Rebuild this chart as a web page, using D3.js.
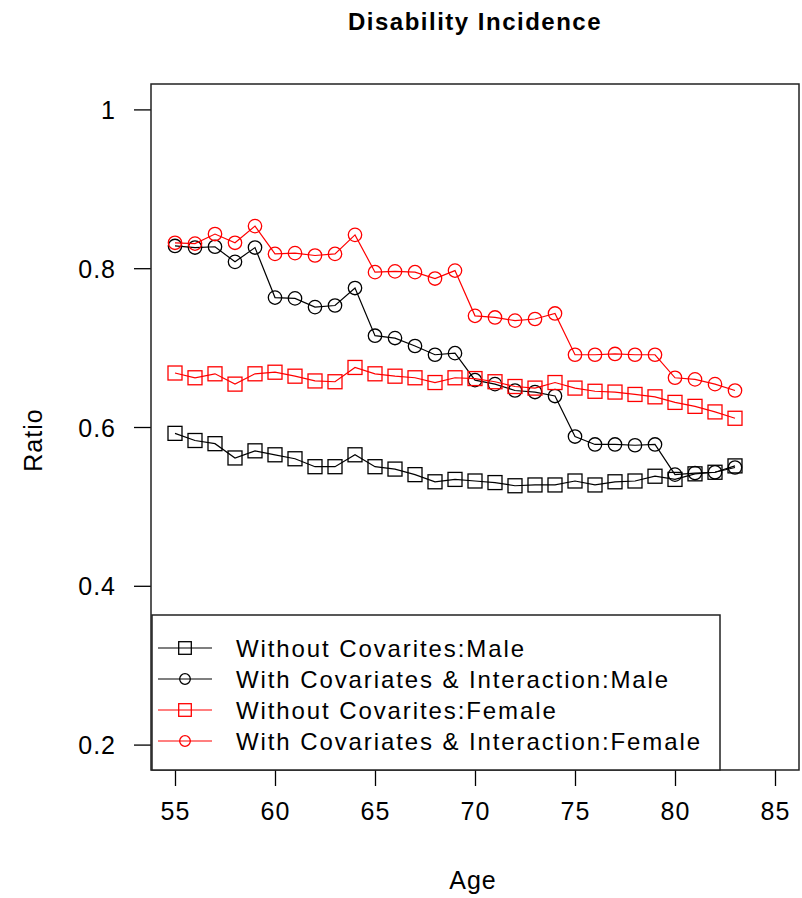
<!DOCTYPE html>
<html>
<head>
<meta charset="utf-8">
<script src="https://cdn.jsdelivr.net/npm/d3@7"></script>
<style>
  body { margin: 0; background: #fff; }
  text { font-family: "Liberation Sans", Arial, sans-serif; fill: #000; }
</style>
</head>
<body>
<script>
var width = 802,
    height = 898;

// ages 55..83
var ages = d3.range(55, 84);

var maleNoCov = [0.592, 0.583, 0.579, 0.561, 0.570, 0.565, 0.560, 0.550, 0.550, 0.565,
                 0.550, 0.547, 0.540, 0.531, 0.534, 0.532, 0.530, 0.526, 0.527, 0.527,
                 0.532, 0.527, 0.531, 0.532, 0.538, 0.534, 0.541, 0.543, 0.551];
var maleCov = [0.828, 0.826, 0.827, 0.808, 0.826, 0.763, 0.762, 0.751, 0.753, 0.775,
               0.715, 0.712, 0.702, 0.691, 0.693, 0.659, 0.654, 0.646, 0.644, 0.639,
               0.588, 0.578, 0.578, 0.577, 0.578, 0.540, 0.542, 0.543, 0.549];
var femaleNoCov = [0.668, 0.662, 0.667, 0.654, 0.667, 0.669, 0.664, 0.658, 0.657, 0.675,
                   0.667, 0.664, 0.662, 0.656, 0.662, 0.661, 0.657, 0.651, 0.649, 0.656,
                   0.649, 0.645, 0.644, 0.641, 0.638, 0.631, 0.626, 0.619, 0.611];
var femaleCov = [0.832, 0.831, 0.843, 0.832, 0.853, 0.818, 0.819, 0.816, 0.818, 0.842,
                 0.795, 0.796, 0.795, 0.787, 0.797, 0.740, 0.738, 0.734, 0.736, 0.743,
                 0.691, 0.691, 0.692, 0.691, 0.691, 0.662, 0.660, 0.654, 0.646];

var seriesNames = ["Without Covarites:Male", "With Covariates & Interaction:Male",
                   "Without Covarites:Female", "With Covariates & Interaction:Female"];
var seriesColors = ["#000000", "#000000", "#ff0000", "#ff0000"];
var seriesShapes = ["square", "circle", "square", "circle"];
var seriesValues = [maleNoCov, maleCov, femaleNoCov, femaleCov];

var xTicks = [55, 60, 65, 70, 75, 80, 85];
var yTicks = [0.2, 0.4, 0.6, 0.8, 1];

var plot = { left: 151, right: 799, top: 84, bottom: 770 };

var svg = d3.select("body").append("svg")
    .attr("width", width)
    .attr("height", height);

var x = d3.scaleLinear().domain([53.8, 86.2]).range([plot.left, plot.right]);
var y = d3.scaleLinear().domain([0.168, 1.032]).range([plot.bottom, plot.top]);

// title
svg.append("text")
    .attr("x", 475).attr("y", 30)
    .attr("text-anchor", "middle")
    .style("font-size", "24px").style("font-weight", "bold")
    .style("letter-spacing", "1.5px")
    .text("Disability Incidence");

// axes
var xAxis = svg.append("g")
    .attr("transform", "translate(0," + plot.bottom + ")")
    .call(d3.axisBottom(x).tickValues(xTicks).tickSize(16).tickPadding(16));
var yAxis = svg.append("g")
    .attr("transform", "translate(" + plot.left + ",0)")
    .call(d3.axisLeft(y).tickValues(yTicks).tickFormat(d3.format("~g")).tickSize(17).tickPadding(18));

[xAxis, yAxis].forEach(function(g) {
  g.select(".domain").remove();
  g.selectAll("line").attr("stroke", "#000").attr("stroke-width", 1.3);
  g.selectAll("text")
    .style("font-family", "'Liberation Sans', Arial, sans-serif")
    .style("font-size", "25px")
    .style("letter-spacing", "1px")
    .attr("fill", "#000");
});
yAxis.selectAll("text").attr("dy", "0.36em");

svg.append("text")
    .attr("x", 473).attr("y", 889)
    .attr("text-anchor", "middle")
    .style("font-size", "25px").style("letter-spacing", "1px")
    .text("Age");

svg.append("text")
    .attr("transform", "translate(42,440) rotate(-90)")
    .attr("text-anchor", "middle")
    .style("font-size", "25px").style("letter-spacing", "1px")
    .text("Ratio");

// plot box
svg.append("rect")
    .attr("x", plot.left).attr("y", plot.top)
    .attr("width", plot.right - plot.left).attr("height", plot.bottom - plot.top)
    .attr("fill", "none").attr("stroke", "#222").attr("stroke-width", 1.5);

var line = d3.line()
    .x(function(d, i) { return x(ages[i]); })
    .y(function(d) { return y(d); });

function drawMarker(g, shape, cx, cy, size, color) {
  if (shape == "square") {
    g.append("rect")
      .attr("x", cx - size).attr("y", cy - size)
      .attr("width", size * 2).attr("height", size * 2)
      .attr("fill", "none").attr("stroke", color).attr("stroke-width", 1.3);
  } else {
    g.append("circle")
      .attr("cx", cx).attr("cy", cy).attr("r", size)
      .attr("fill", "none").attr("stroke", color).attr("stroke-width", 1.3);
  }
}

seriesValues.forEach(function(vals, s) {
  var g = svg.append("g");
  g.append("path")
    .datum(vals)
    .attr("d", line)
    .attr("fill", "none")
    .attr("stroke", seriesColors[s])
    .attr("stroke-width", 1.2);
  vals.forEach(function(v, i) {
    drawMarker(g, seriesShapes[s], x(ages[i]), y(v), s % 2 == 0 ? 7 : 6.7, seriesColors[s]);
  });
});

// legend
var legend = svg.append("g");
legend.append("rect")
    .attr("x", 152).attr("y", 615)
    .attr("width", 568).attr("height", 155)
    .attr("fill", "#fff").attr("stroke", "#222").attr("stroke-width", 1.5);

seriesNames.forEach(function(name, s) {
  var ly = 648 + s * 31;
  legend.append("line")
    .attr("x1", 158).attr("x2", 212)
    .attr("y1", ly).attr("y2", ly)
    .attr("stroke", seriesColors[s]).attr("stroke-width", 1.2);
  drawMarker(legend, seriesShapes[s], 185, ly, s % 2 == 0 ? 6.3 : 5.3, seriesColors[s]);
  legend.append("text")
    .attr("x", 236).attr("y", ly)
    .attr("dy", "0.36em")
    .style("font-size", "24px")
    .style("letter-spacing", "1.9px")
    .text(name);
});
</script>
</body>
</html>
